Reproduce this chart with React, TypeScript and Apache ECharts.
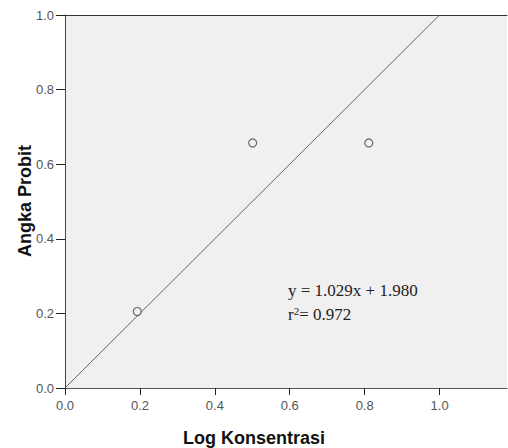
import React, { useEffect, useRef } from "react";
import * as echarts from "echarts";

const logKonsentrasi = [0.193, 0.501, 0.811];
const angkaProbit = [0.205, 0.657, 0.657];
const fitLineX = [0.0, 1.0];
const fitLineY = [0.0, 1.0];
const yTicks = [0, 0.2, 0.4, 0.6, 0.8, 1.0];
const equationText = "y = 1.029x + 1.980";
const r2Value = "0.972";
const xTitle = "Log Konsentrasi";
const yTitle = "Angka Probit";

export default function App() {
  const ref = useRef<HTMLDivElement>(null);
  useEffect(() => {
    if (!ref.current) return;
    const chart = echarts.init(ref.current, null, { renderer: "svg" });
    const labelStyle = {
      color: "#555",
      fontSize: 13,
      fontFamily: "Liberation Sans, Arial, sans-serif",
    };
    const fmt = (v: number) => {
      const r = Math.round(v / 0.2) * 0.2;
      return Math.abs(r - v) < 1e-6 ? v.toFixed(1) : "";
    };
    const serif = '"Liberation Serif", "Times New Roman", serif';
    chart.setOption({
      animation: false,
      backgroundColor: "#fff",
      grid: {
        left: 65,
        top: 15,
        right: 1,
        bottom: 60,
        show: true,
        backgroundColor: "#f0f0f0",
        borderWidth: 0,
      },
      xAxis: [
        {
          type: "value",
          min: 0,
          max: 1.18,
          interval: 0.2,
          splitLine: { show: false },
          axisLine: { show: true, lineStyle: { color: "#555", width: 1 } },
          axisTick: { show: true, length: 7, lineStyle: { color: "#222" } },
          axisLabel: { ...labelStyle, margin: 11, formatter: fmt, showMaxLabel: false },
        },
        {
          type: "value",
          position: "top",
          min: 0,
          max: 1.18,
          splitLine: { show: false },
          axisLine: { show: true, onZero: false, lineStyle: { color: "#333", width: 1 } },
          axisTick: { show: false },
          axisLabel: { show: false },
        },
      ],
      yAxis: {
        type: "value",
        min: yTicks[0],
        max: yTicks[yTicks.length - 1],
        interval: 0.2,
        splitLine: { show: false },
        axisLine: { show: true, lineStyle: { color: "#444", width: 1 } },
        axisTick: { show: true, length: 9, lineStyle: { color: "#222" } },
        axisLabel: { ...labelStyle, margin: 11, formatter: (v: number) => v.toFixed(1) },
      },
      series: [
        {
          type: "line",
          data: fitLineX.map((x, i) => [x, fitLineY[i]]),
          showSymbol: false,
          symbol: "none",
          lineStyle: { color: "#666", width: 1 },
          z: 2,
        },
        {
          type: "scatter",
          data: logKonsentrasi.map((x, i) => [x, angkaProbit[i]]),
          symbol: "circle",
          symbolSize: 8,
          itemStyle: { color: "#f0f0f0", borderColor: "#444", borderWidth: 1.2 },
          z: 3,
        },
      ],
      graphic: [
        {
          type: "text",
          left: 288,
          top: 282,
          style: {
            text: equationText,
            fill: "#222",
            font: "17px " + serif,
          },
        },
        {
          type: "text",
          left: 288,
          top: 305,
          style: {
            text: "r{sup|2}= " + r2Value,
            fill: "#222",
            font: "17px " + serif,
            rich: {
              sup: {
                fontSize: 11,
                fontFamily: serif,
                verticalAlign: "top",
                padding: [0, 0, 7, 0],
                fill: "#222",
              },
            },
          },
        },
        {
          type: "text",
          x: 254,
          y: 438,
          style: {
            text: xTitle,
            fill: "#111",
            font: 'bold 18px "Liberation Sans", Arial, sans-serif',
            textAlign: "center",
            textVerticalAlign: "middle",
          },
        },
        {
          type: "text",
          x: 25,
          y: 201,
          rotation: Math.PI / 2,
          style: {
            text: yTitle,
            fill: "#111",
            font: 'bold 18px "Liberation Sans", Arial, sans-serif',
            textAlign: "center",
            textVerticalAlign: "middle",
          },
        },
      ],
    });
    return () => chart.dispose();
  }, []);
  return (
    <div
      ref={ref}
      style={{ position: "absolute", left: 0, top: 0, width: 508, height: 448 }}
    />
  );
}
